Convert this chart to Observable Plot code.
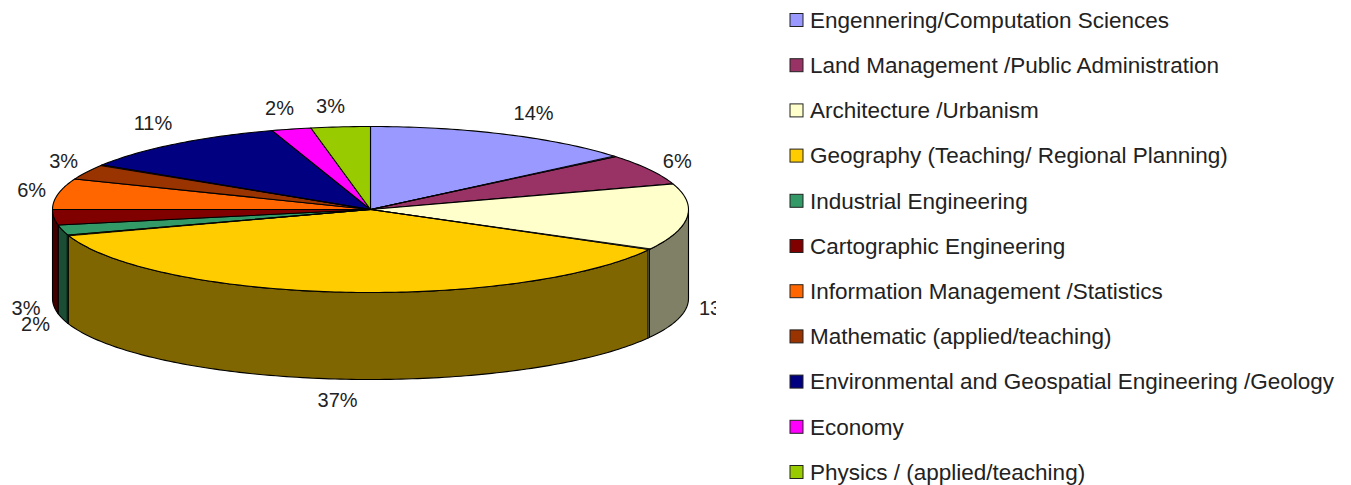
<!DOCTYPE html>
<html>
<head>
<meta charset="utf-8">
<style>html,body{margin:0;padding:0;background:#fff}svg{display:block}</style>
<script src="https://cdn.jsdelivr.net/npm/d3@7"></script>
<script src="https://cdn.jsdelivr.net/npm/@observablehq/plot@0.6"></script>
</head>
<body>
<div id="chart"></div>
<script>
const categories = [
  "Engennering/Computation Sciences",
  "Land Management /Public Administration",
  "Architecture /Urbanism",
  "Geography (Teaching/ Regional Planning)",
  "Industrial Engineering",
  "Cartographic Engineering",
  "Information Management /Statistics",
  "Mathematic (applied/teaching)",
  "Environmental and Geospatial Engineering /Geology",
  "Economy",
  "Physics / (applied/teaching)"
];
const shares = [14, 6, 13, 37, 2, 3, 6, 3, 11, 2, 3];
const colors = ["#9999ff","#993366","#ffffcc","#ffcc00","#339966","#800000","#ff6600","#993300","#000080","#ff00ff","#99cc00"];
const shadeColors = ["#4d4d80","#4d1a33","#808066","#806600","#1a4d33","#400000","#803300","#4d1a00","#000040","#800080","#4d6600"];
const seamSlices = [0, 2, 3, 7];

const W = 1351, H = 485;
const cx = 370, topCy = 209, topRy = 83, rx = 318, lowCy = 298, lowRy = 81;
const rad = d => d * Math.PI / 180;
const onTop = a => ({x: cx + rx * Math.sin(rad(a)), y: topCy - topRy * Math.cos(rad(a))});
const onLow = a => ({x: cx + rx * Math.sin(rad(a)), y: lowCy - lowRy * Math.cos(rad(a))});
const arc = (a0, a1, f) => {
  const n = Math.max(1, Math.ceil(Math.abs(a1 - a0)));
  return d3.range(n + 1).map(i => f(a0 + (a1 - a0) * i / n));
};

let cum = 0;
const slices = shares.map((v, i) => {
  const a0 = cum * 3.6; cum += v; const a1 = cum * 3.6;
  return {i, v, a0, a1, mid: (a0 + a1) / 2};
});

const topPts = [], sidePts = [], seamPts = [];
for (const s of slices) {
  const ring = [{x: cx, y: topCy}, ...arc(s.a0, s.a1, onTop), {x: cx, y: topCy}];
  ring.forEach(p => topPts.push({...p, id: s.i, fill: colors[s.i]}));
  const l = Math.max(s.a0, 90), r = Math.min(s.a1, 270);
  if (l < r) {
    const side = [...arc(l, r, onTop), ...arc(r, l, onLow)];
    side.push(side[0]);
    side.forEach(p => sidePts.push({...p, id: s.i, fill: shadeColors[s.i]}));
  }
}
const seamWidth = 0.5;
for (const i of seamSlices) {
  const s = slices[i];
  const ring = [{x: cx, y: topCy}, onTop(s.a1 - seamWidth), onTop(s.a1), {x: cx, y: topCy}];
  ring.forEach(p => seamPts.push({...p, id: "t" + i, fill: shadeColors[i]}));
  if (s.a1 > 90 && s.a1 < 270) {
    const face = [onTop(s.a1), onTop(s.a1 + seamWidth), onLow(s.a1 + seamWidth), onLow(s.a1), onTop(s.a1)];
    face.forEach(p => seamPts.push({...p, id: "f" + i, fill: shadeColors[i]}));
  }
}

const labelR = 350, labelRy = 103;
const labelNudge = new Map([
  [0, [14, -3]], [1, [0, 2]], [4, [4, 0]], [5, [4, 0]], [6, [5, 0]],
  [7, [5, -1]], [8, [-3, -5]], [9, [-4, -1]], [10, [-7, 0]]
]);
const labels = slices.map(s => {
  const front = s.mid > 90 && s.mid < 270;
  const [nx, ny] = labelNudge.get(s.i) || [0, 0];
  return {
    text: s.v + "%",
    x: cx + labelR * Math.sin(rad(s.mid)) + nx,
    y: (front ? lowCy : topCy) - labelRy * Math.cos(rad(s.mid)) + ny
  };
});

const legendX = 790, legendBox = 13, legendTop = 20, legendStep = 45.2;
const legend = categories.map((c, i) => ({c, i, y: legendTop + legendStep * i}));

const plot = Plot.plot({
  width: W, height: H,
  marginTop: 0, marginRight: 0, marginBottom: 0, marginLeft: 0,
  x: {type: "linear", domain: [0, W], range: [0, W], axis: null},
  y: {type: "linear", domain: [0, H], range: [0, H], axis: null},
  color: {type: "identity"},
  style: {fontFamily: "'Liberation Sans', Arial, sans-serif", background: "#fff"},
  marks: [
    Plot.line(sidePts, {x: "x", y: "y", z: "id", fill: "fill", stroke: "#000", strokeWidth: 1.1, curve: "linear"}),
    Plot.line(topPts, {x: "x", y: "y", z: "id", fill: "fill", stroke: "#000", strokeWidth: 1.1, curve: "linear"}),
    Plot.line(seamPts, {x: "x", y: "y", z: "id", fill: "fill", stroke: "#000", strokeWidth: 0.8, curve: "linear"}),
    Plot.text(labels, {x: "x", y: "y", text: "text", fontSize: 20, fill: "#222"}),
    Plot.rect([{x1: 716, x2: 770, y1: 280, y2: 335}], {x1: "x1", x2: "x2", y1: "y1", y2: "y2", fill: "#fff"}),
    Plot.rect(legend, {x1: () => legendX, x2: () => legendX + legendBox, y1: d => d.y - legendBox / 2, y2: d => d.y + legendBox / 2, fill: d => colors[d.i], stroke: "#222", strokeWidth: 1}),
    Plot.text(legend, {x: () => legendX + 19.5, y: "y", text: "c", textAnchor: "start", fontSize: 22.5, fill: "#222"})
  ]
});
document.getElementById("chart").append(plot);
</script>
</body>
</html>
